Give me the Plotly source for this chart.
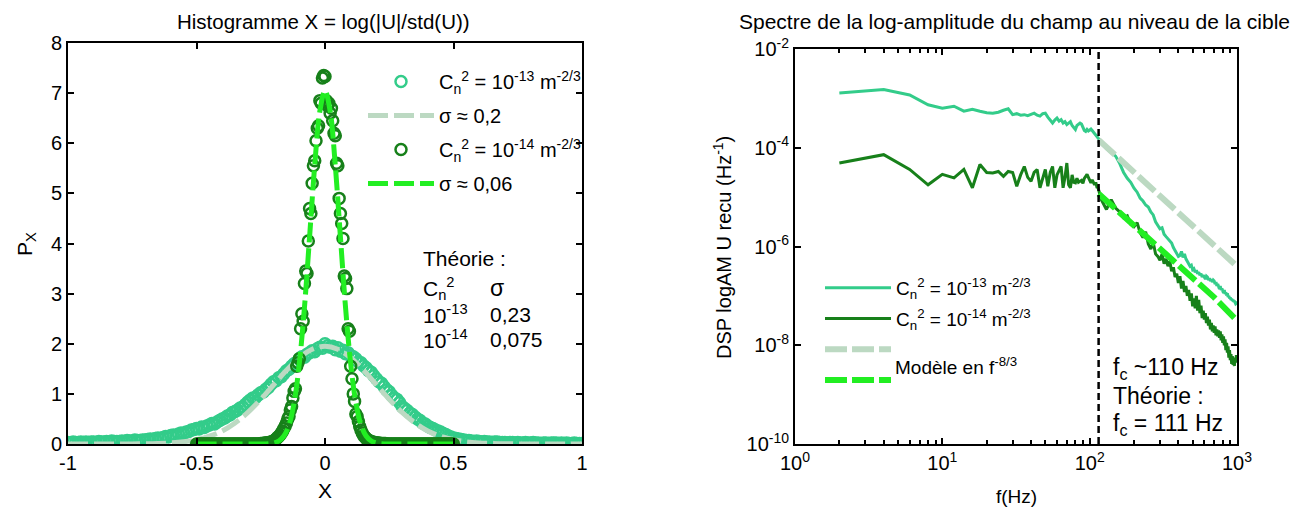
import numpy as np
import plotly.graph_objects as go

FONT = "Liberation Sans, Arial, sans-serif"

# ---------------- Left panel data ----------------
# X bins for C_n^2 = 1e-13 histogram (step 0.01 from -1 to 1)
x_hist13 = np.round(np.linspace(-1.0, 1.0, 201), 3)
p_hist13 = [
    0.03, 0.02, 0.04, 0.03, 0.03, 0.04, 0.03, 0.04, 0.03, 0.04,
    0.04, 0.03, 0.05, 0.04, 0.04, 0.05, 0.04, 0.06, 0.05, 0.05,
    0.05, 0.06, 0.05, 0.07, 0.06, 0.06, 0.08, 0.07, 0.07, 0.08,
    0.08, 0.09, 0.10, 0.09, 0.11, 0.12, 0.11, 0.13, 0.15, 0.14,
    0.17, 0.18, 0.17, 0.20, 0.22, 0.21, 0.24, 0.25, 0.28, 0.29,
    0.31, 0.30, 0.34, 0.33, 0.36, 0.38, 0.41, 0.40, 0.44, 0.47,
    0.50, 0.52, 0.56, 0.58, 0.63, 0.65, 0.68, 0.72, 0.74, 0.79,
    0.84, 0.88, 0.92, 0.93, 0.98, 1.02, 1.04, 1.09, 1.13, 1.19,
    1.24, 1.26, 1.32, 1.34, 1.40, 1.46, 1.49, 1.55, 1.60, 1.63,
    1.70, 1.74, 1.73, 1.79, 1.82, 1.86, 1.84, 1.90, 1.93, 1.91,
    2.00, 1.96, 1.93, 1.95, 1.88, 1.92, 1.85, 1.87, 1.80, 1.82,
    1.76, 1.74, 1.70, 1.64, 1.62, 1.56, 1.52, 1.46, 1.43, 1.36,
    1.30, 1.24, 1.21, 1.14, 1.08, 1.04, 0.97, 0.92, 0.89, 0.83,
    0.75, 0.71, 0.67, 0.62, 0.59, 0.54, 0.50, 0.47, 0.42, 0.40,
    0.36, 0.33, 0.31, 0.28, 0.26, 0.24, 0.21, 0.19, 0.16, 0.14,
    0.12, 0.11, 0.10, 0.09, 0.08, 0.07, 0.07, 0.06, 0.05, 0.06,
    0.05, 0.04, 0.05, 0.04, 0.04, 0.03, 0.04, 0.04, 0.03, 0.03,
    0.03, 0.02, 0.03, 0.03, 0.02, 0.03, 0.02, 0.02, 0.03, 0.02,
    0.02, 0.03, 0.02, 0.02, 0.01, 0.02, 0.02, 0.01, 0.02, 0.02,
    0.02, 0.01, 0.02, 0.01, 0.02, 0.01, 0.01, 0.02, 0.01, 0.01,
    0.01,
]

# Gaussian model sigma ~ 0.2
x_model02 = np.round(np.linspace(-1.0, 1.0, 41), 3)
p_model02 = [
    0.0, 0.0, 0.0, 0.0, 0.0, 0.002, 0.004, 0.010, 0.022, 0.044,
    0.086, 0.155, 0.26, 0.42, 0.63, 0.89, 1.18, 1.47, 1.72, 1.89,
    1.95,
    1.89, 1.72, 1.47, 1.18, 0.89, 0.63, 0.42, 0.26, 0.155, 0.086,
    0.044, 0.022, 0.010, 0.004, 0.002, 0.0, 0.0, 0.0, 0.0, 0.0,
]

# X bins for C_n^2 = 1e-14 histogram (step 0.005 from -0.5 to 0.5)
x_hist14 = np.round(np.linspace(-0.5, 0.5, 201), 4)
p_hist14 = [
    0, 0, 0, 0, 0, 0, 0, 0, 0, 0,
    0, 0, 0, 0, 0, 0, 0, 0, 0, 0,
    0, 0, 0, 0, 0, 0, 0, 0, 0, 0,
    0, 0, 0, 0, 0, 0, 0, 0, 0, 0,
    0, 0, 0, 0, 0, 0, 0, 0, 0, 0,
    0.01, 0.01, 0.01, 0.02, 0.02, 0.02, 0.03, 0.03, 0.04, 0.05,
    0.06, 0.08, 0.10, 0.13, 0.15, 0.18, 0.22, 0.26, 0.31, 0.36,
    0.42, 0.50, 0.55, 0.68, 0.75, 0.92, 1.05, 1.10, 1.55, 1.62,
    1.70, 2.30, 2.60, 2.45, 3.20, 3.45, 3.40, 4.05, 4.70, 4.60,
    5.20, 5.55, 5.65, 6.05, 6.30, 6.35, 6.85, 6.80, 7.30, 7.35,
    7.33,
    6.85, 6.75, 6.80, 6.60, 6.70, 6.45, 6.20, 6.15, 5.60, 5.55,
    4.90, 4.60, 4.40, 4.10, 3.35, 3.30, 3.10, 2.30, 2.25, 1.55,
    1.30, 1.00, 0.85, 0.60, 0.55, 0.45, 0.35, 0.28, 0.22, 0.17,
    0.14, 0.11, 0.09, 0.07, 0.06, 0.05, 0.04, 0.03, 0.03, 0.02,
    0.02, 0.02, 0.01, 0.01, 0.01, 0.01, 0.01, 0, 0, 0,
    0, 0, 0, 0, 0, 0, 0, 0, 0, 0,
    0, 0, 0, 0, 0, 0, 0, 0, 0, 0,
    0, 0, 0, 0, 0, 0, 0, 0, 0, 0,
    0, 0, 0, 0, 0, 0, 0, 0, 0, 0,
    0, 0, 0, 0, 0, 0, 0, 0, 0, 0,
]

# Gaussian model sigma ~ 0.06
x_model006 = [-0.5, -0.4, -0.3, -0.25, -0.22, -0.20, -0.18, -0.16, -0.14, -0.12,
              -0.10, -0.08, -0.06, -0.04, -0.02, 0.0, 0.02, 0.04, 0.06, 0.08,
              0.10, 0.12, 0.14, 0.16, 0.18, 0.20, 0.22, 0.25, 0.3, 0.4, 0.5]
p_model006 = [0.0, 0.0, 0.0, 0.0, 0.005, 0.02, 0.06, 0.16, 0.38, 0.83,
              1.60, 2.72, 4.13, 5.56, 6.64, 7.05, 6.64, 5.56, 4.13, 2.72,
              1.60, 0.83, 0.38, 0.16, 0.06, 0.02, 0.005, 0.0, 0.0, 0.0, 0.0]

# ---------------- Right panel data ----------------
f_low = list(range(2, 122, 2))           # 2..120 Hz
f_high = list(range(130, 1010, 10))      # 130..1000 Hz
freq = f_low + f_high

log_dsp13 = [
    -2.89, -2.82, -2.93, -3.13, -3.20, -3.16, -3.26, -3.22, -3.26, -3.29,
    -3.30, -3.28, -3.24, -3.21, -3.33, -3.31, -3.34, -3.33, -3.35, -3.32,
    -3.30, -3.34, -3.36, -3.31, -3.30, -3.38, -3.45, -3.50, -3.44, -3.40,
    -3.46, -3.43, -3.50, -3.47, -3.53, -3.49, -3.47, -3.55, -3.60, -3.63,
    -3.55, -3.52, -3.50, -3.52, -3.60, -3.65, -3.67, -3.63, -3.66, -3.64,
    -3.62, -3.65, -3.68, -3.72, -3.75, -3.78, -3.80, -3.83, -3.86, -3.90,
    # 130 .. 1000
    -4.02, -4.10, -4.17, -4.32, -4.50, -4.62, -4.70, -4.82,
    -4.90, -5.02, -5.08, -5.16, -5.20, -5.30, -5.36, -5.50, -5.56, -5.64,
    -5.62, -5.75, -5.80, -5.84, -5.90, -5.93, -6.02, -6.08, -6.12, -6.20,
    -6.18, -6.10, -6.22, -6.15, -6.25, -6.30, -6.36, -6.40, -6.38, -6.47,
    -6.45, -6.52, -6.48, -6.55, -6.52, -6.58, -6.55, -6.62, -6.58, -6.61,
    -6.66, -6.60, -6.62, -6.68, -6.64, -6.70, -6.66, -6.72, -6.68, -6.70,
    -6.76, -6.72, -6.80, -6.76, -6.82, -6.86, -6.80, -6.88, -6.85, -6.90,
    -6.94, -6.88, -6.96, -6.93, -6.99, -6.95, -7.02, -7.00, -7.05, -7.03,
    -7.08, -7.06, -7.10, -7.08, -7.12, -7.10, -7.14, -7.16, -7.15, -7.18,
]

log_dsp14 = [
    -4.31, -4.14, -4.44, -4.75, -4.54, -4.61, -4.44, -4.81, -4.34, -4.50,
    -4.51, -4.48, -4.58, -4.48, -4.50, -4.78, -4.55, -4.38, -4.60, -4.68,
    -4.50, -4.44, -4.81, -4.60, -4.44, -4.78, -4.50, -4.38, -4.81, -4.55,
    -4.45, -4.38, -4.81, -4.60, -4.31, -4.75, -4.81, -4.55, -4.70, -4.71,
    -4.62, -4.70, -4.68, -4.66, -4.72, -4.62, -4.58, -4.54, -4.60, -4.66,
    -4.71, -4.65, -4.72, -4.75, -4.70, -4.80, -4.81, -4.88, -4.95, -5.05,
    # 130 .. 1000
    -5.25, -5.05, -5.22, -5.30, -5.42, -5.38, -5.55, -5.60,
    -5.52, -5.72, -5.82, -5.70, -5.95, -6.05, -5.92, -6.15, -6.20, -6.28,
    -6.15, -6.35, -6.25, -6.40, -6.30, -6.50, -6.42, -6.62, -6.55, -6.74,
    -6.60, -6.85, -6.70, -6.92, -6.80, -7.00, -6.88, -7.10, -6.95, -7.21,
    -7.05, -7.25, -7.00, -7.30, -7.08, -7.35, -7.20, -7.45, -7.30, -7.48,
    -7.35, -7.55, -7.42, -7.60, -7.48, -7.68, -7.55, -7.72, -7.60, -7.75,
    -7.62, -7.80, -7.68, -7.82, -7.70, -7.85, -7.72, -7.90, -7.78, -7.95,
    -7.82, -8.00, -7.88, -8.10, -7.95, -8.15, -8.02, -8.25, -8.10, -8.30,
    -8.18, -8.38, -8.22, -8.40, -8.30, -8.42, -8.25, -8.35, -8.20, -8.28,
]

f_model = [115, 200, 400, 700, 1000]
log_model13 = [-3.84, -4.49, -5.30, -5.95, -6.40]
log_model14 = [-4.93, -5.57, -6.38, -7.03, -7.50]

fc_measured = 115
yrange_log = [-10, -2]

dsp13 = [10 ** v for v in log_dsp13]
dsp14 = [10 ** v for v in log_dsp14]
model13 = [10 ** v for v in log_model13]
model14 = [10 ** v for v in log_model14]

# ---------------- Colours ----------------
C13 = "#33CC8A"
C14 = "#17801A"
CGREY = "#BCD9C2"
CLIME = "#22EE22"

fig = go.Figure()

# Left panel traces
fig.add_trace(go.Scatter(
    x=x_hist13, y=p_hist13, mode="markers",
    marker=dict(symbol="circle-open", size=11, color=C13, line=dict(width=2.5, color=C13)),
    name="C<sub>n</sub><sup>2</sup> = 10<sup>-13</sup> m<sup>-2/3</sup>",
    xaxis="x", yaxis="y", legend="legend", legendgroup="a"))
fig.add_trace(go.Scatter(
    x=x_model02, y=p_model02, mode="lines", line_shape="spline",
    line=dict(color=CGREY, width=5, dash="20px,6px"),
    name="σ ≈ 0,2", xaxis="x", yaxis="y", legend="legend", legendgroup="b"))
fig.add_trace(go.Scatter(
    x=x_hist14, y=p_hist14, mode="markers",
    marker=dict(symbol="circle-open", size=11, color=C14, line=dict(width=2.5, color=C14)),
    name="C<sub>n</sub><sup>2</sup> = 10<sup>-14</sup> m<sup>-2/3</sup>",
    xaxis="x", yaxis="y", legend="legend", legendgroup="c"))
fig.add_trace(go.Scatter(
    x=x_model006, y=p_model006, mode="lines", line_shape="spline",
    line=dict(color=CLIME, width=5, dash="20px,6px"),
    name="σ ≈ 0,06", xaxis="x", yaxis="y", legend="legend", legendgroup="d"))

# Right panel traces
fig.add_trace(go.Scatter(
    x=freq, y=dsp13, mode="lines", line=dict(color=C13, width=3),
    name="C<sub>n</sub><sup>2</sup> = 10<sup>-13</sup> m<sup>-2/3</sup>",
    xaxis="x2", yaxis="y2", legend="legend2", legendgroup="e"))
fig.add_trace(go.Scatter(
    x=freq, y=dsp14, mode="lines", line=dict(color=C14, width=3),
    name="C<sub>n</sub><sup>2</sup> = 10<sup>-14</sup> m<sup>-2/3</sup>",
    xaxis="x2", yaxis="y2", legend="legend2", legendgroup="f"))
fig.add_trace(go.Scatter(
    x=f_model, y=model13, mode="lines",
    line=dict(color=CGREY, width=6, dash="22px,5px"),
    name=" ", xaxis="x2", yaxis="y2", legend="legend2", legendgroup="g"))
fig.add_trace(go.Scatter(
    x=f_model, y=model14, mode="lines",
    line=dict(color=CLIME, width=6, dash="22px,5px"),
    name="  ", xaxis="x2", yaxis="y2", legend="legend2", legendgroup="h"))
fig.add_trace(go.Scatter(
    x=[fc_measured, fc_measured], y=[10 ** yrange_log[0], 10 ** yrange_log[1]],
    mode="lines", line=dict(color="black", width=2.5, dash="7px,4px"),
    showlegend=False, xaxis="x2", yaxis="y2"))

# The page body has an 8px margin: the figure is sized and positioned to compensate
OFF = 8
W, H = 1306 - OFF, 509 - OFF
def px(x):
    return (x - OFF) / W
def py(y):
    return 1 - (y - OFF) / H

def axis_common(fs):
    return dict(showline=True, linecolor="black", linewidth=2, mirror="ticks",
                ticks="inside", ticklen=6, tickwidth=2, tickcolor="black",
                showgrid=False, zeroline=False, automargin=False,
                tickfont=dict(family=FONT, size=fs, color="black"))

fig.update_layout(
    width=W, height=H,
    margin=dict(l=0, r=0, t=0, b=0, autoexpand=False),
    paper_bgcolor="white", plot_bgcolor="white",
    font=dict(family=FONT, color="black"),
    xaxis=dict(domain=[px(68), px(582)], range=[-1, 1], anchor="y",
               tickvals=[-1, -0.5, 0, 0.5, 1], ticktext=["-1", "-0.5", "0", "0.5", "1"],
               **axis_common(20)),
    yaxis=dict(domain=[py(444), py(43)], range=[0, 8], anchor="x",
               tickvals=list(range(0, 9)), **axis_common(20)),
    xaxis2=dict(domain=[px(795), px(1237)], type="log", range=[0, 3], anchor="y2",
                tickvals=[1, 10, 100, 1000],
                ticktext=["10<sup>0</sup>", "10<sup>1</sup>", "10<sup>2</sup>", "10<sup>3</sup>"],
                minor=dict(tickvals=[2, 3, 4, 5, 6, 7, 8, 9, 20, 30, 40, 50, 60, 70, 80, 90,
                                     200, 300, 400, 500, 600, 700, 800, 900],
                           ticks="inside", ticklen=4, tickwidth=1.5, tickcolor="black",
                           showgrid=False),
                **axis_common(20)),
    yaxis2=dict(domain=[py(444), py(49)], type="log", range=yrange_log, anchor="x2",
                tickvals=[1e-10, 1e-8, 1e-6, 1e-4, 1e-2],
                ticktext=["10<sup>-10</sup>", "10<sup>-8</sup>", "10<sup>-6</sup>",
                          "10<sup>-4</sup>", "10<sup>-2</sup>"],
                **axis_common(20)),
    legend=dict(x=px(363), y=py(62), xanchor="left", yanchor="top",
                bgcolor="rgba(0,0,0,0)", itemwidth=66, tracegroupgap=5,
                font=dict(family=FONT, size=20, color="black")),
    legend2=dict(x=px(820), y=py(269), xanchor="left", yanchor="top",
                 bgcolor="rgba(0,0,0,0)", itemwidth=66, tracegroupgap=3,
                 font=dict(family=FONT, size=19, color="black")),
    showlegend=True,
)

ann = []
def add_text(x, y, text, size=19, xanchor="left", angle=0):
    ann.append(dict(x=px(x), y=py(y), xref="paper", yref="paper", text=text,
                    showarrow=False, xanchor=xanchor, yanchor="middle", textangle=angle,
                    font=dict(family=FONT, size=size, color="black")))

# Titles
add_text(323, 21, "Histogramme X = log(|U|/std(U))", size=20.5, xanchor="center")
add_text(1014, 21, "Spectre de la log-amplitude du champ au niveau de la cible", size=21, xanchor="center")
# Axis titles
add_text(26, 244, "P<sub>X</sub>", size=21, xanchor="center", angle=-90)
add_text(325, 490, "X", size=21, xanchor="center")
add_text(722, 248, "DSP logAM U recu (Hz<sup>-1</sup>)", size=20, xanchor="center", angle=-90)
add_text(1016, 496, "f(Hz)", size=19, xanchor="center")
# Theory table (left)
add_text(421, 258, "Théorie :", size=21)
add_text(421, 288, "C<sub>n</sub><sup>2</sup>", size=21)
add_text(488, 288, "σ", size=23)
add_text(421, 314, "10<sup>-13</sup>", size=21)
add_text(488, 314, "0,23", size=21)
add_text(421, 339, "10<sup>-14</sup>", size=21)
add_text(488, 339, "0,075", size=21)
# Right annotations
add_text(893, 366, "Modèle en f<sup>-8/3</sup>", size=19)
add_text(1111, 368, "f<sub>c</sub> ~110 Hz", size=23)
add_text(1111, 396, "Théorie :", size=23)
add_text(1111, 424, "f<sub>c</sub> = 111 Hz", size=23)

fig.update_layout(annotations=ann)

fig.write_html("out.html")
